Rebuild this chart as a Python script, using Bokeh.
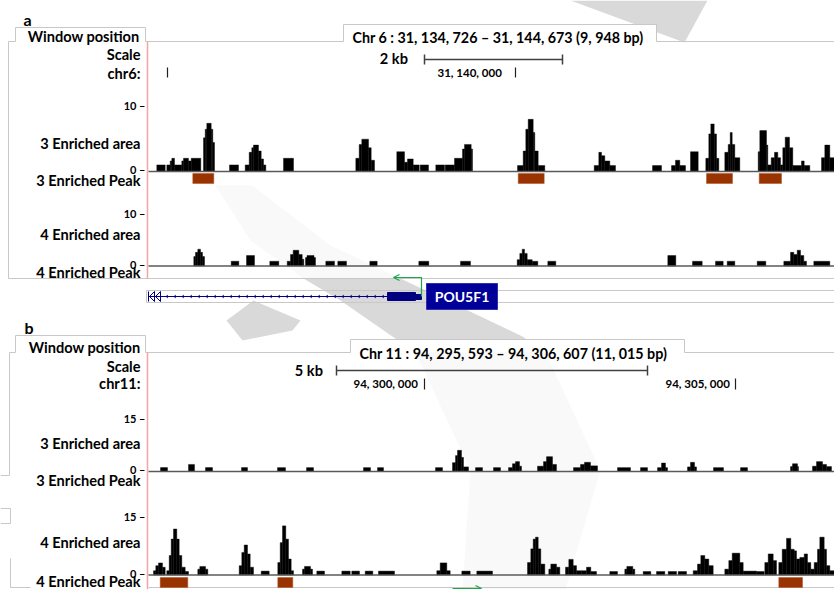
from bokeh.plotting import figure
from bokeh.models import Range1d, Arrow, OpenHead
from bokeh.embed import file_html
from bokeh.resources import INLINE
from bokeh.core.properties import value

# ---------------- data (x in track columns, values in signal units) ----------------
a3_left = [156.3,166.3,169.7,171.3,174,181.3,183,188,190.7,203,204.7,206.3,210.7,212.3,229,244.7,248.7,251.3,253,258,260.7,263,283,355.3,358.7,361.3,368,370.7,396.3,404,407,412.7,419.7,435.3,444.7,454,462,464,470.7,517,522.7,525.3,527.7,532.7,534.3,537.7,593.7,598.3,601,604.3,609.3,652,671,675,679.3,690,705.3,708.3,710.3,713.7,716,724.3,727.7,729.7,731.7,734.3,757.7,759.3,766,767.3,770.7,774,777.3,780,782.3,784.7,789,792.3,801,803.7,821,824.3,829.3]
a3_right = [164.7,169.7,171.3,174,181.3,183,188,190.7,200.3,204.7,206.3,210.7,212.3,214,238,248.7,251.3,253,258,260.7,263,265.3,293,358.7,361.3,368,370.7,374,404,407,412.7,418.7,428,444,454,462,464,470.7,472,522.7,525.3,527.7,532.7,534.3,537.7,544.3,598.3,601,604.3,609.3,615,661,675,679.3,685,697.7,708.3,710.3,713.7,716,718.3,727.7,729.7,731.7,734.3,739.3,759.3,766,767.3,770.7,774,777.3,780,782.3,784.7,789,792.3,801,803.7,809.3,824.3,829.3,834]
a3_value = [1.0,1.0,1.6,2.0,1.0,1.6,2.0,1.6,2.0,5.1,6.4,7.3,6.4,4.4,1.0,1.0,2.9,3.6,4.0,3.1,1.9,1.0,2.0,2.0,4.1,4.9,3.6,1.7,3.0,1.4,1.9,1.0,1.0,1.0,1.0,2.0,3.4,4.1,3.4,0.9,3.1,6.4,7.9,5.9,3.1,0.9,0.9,2.9,2.4,1.6,0.9,0.9,0.9,1.7,0.9,3.0,2.0,5.7,7.2,5.7,2.0,2.9,4.1,5.9,4.1,2.1,3.0,6.2,4.0,1.0,2.1,2.9,2.1,1.0,3.6,5.2,3.6,0.9,1.6,0.9,2.1,4.0,2.1]

a4_left = [193.3,195,197.3,200,202,230.7,246,269.3,286.7,290,292.7,298.3,301.7,305,306.5,313.5,325.3,337.3,369.3,418.3,460,516.7,519.3,521.7,524,526.7,531.7,547.3,667.3,692,715,726.7,756.7,783.3,790,793.3,796.7,800,803.3,813.3]
a4_right = [195,197.3,200,202,204,238.3,254,278.3,290,292.7,298.3,301.7,303.3,306.5,313.5,315,334,346,376.7,428.3,470,519.3,521.7,524,526.7,531.7,537.3,555.3,675.3,701.7,722.7,734.3,765.3,790,793.3,796.7,800,803.3,806,829.3]
a4_value = [1.8,2.6,3.2,2.6,1.8,0.9,2.0,0.9,0.9,2.2,3.0,2.2,1.3,1.6,2.0,1.6,0.9,0.9,0.9,0.9,0.9,1.2,2.4,3.2,2.4,1.2,0.9,0.9,2.0,0.9,0.9,0.9,0.9,0.9,2.6,2.2,3.0,2.0,0.9,0.9]

b3_left = [160,188,205,241,277,306,363,377,435,452,455,457,461,463,475,493,508,512,515,519,537,543,546,552,573,580,584,590,617,640,657,661,665,687,690,694,713,740,790,792,797,812,816,822,826]
b3_right = [167,194,212,247,285,313,370,383,442,455,457,461,463,468,482,500,512,515,519,521,543,546,552,556,580,584,590,597,630,647,661,665,667,690,694,696,723,747,792,797,798,816,822,826,831]
b3_value = [1.1,2.0,1.1,1.1,1.1,1.1,1.1,1.1,1.1,2.5,4.5,6.0,4.0,1.3,1.1,1.1,1.1,2.2,2.8,1.5,1.5,2.8,4.2,2.0,1.1,2.0,2.6,1.6,1.1,1.1,1.1,2.4,1.1,1.3,2.6,1.3,1.1,1.1,1.4,2.2,1.4,1.5,2.8,2.0,1.4]

b4_left = [153,155.3,158,162,166.3,168.7,170.7,173,176.3,178.7,181.3,184.7,197.3,199.3,205,238.7,241.3,243.7,247,249.7,260.7,277.3,279.7,282,285.3,288,290.7,302,304,310,316.3,341.3,351.3,364.7,378,436.3,439.7,446.3,461.3,476.3,527,530.3,532.7,535,537.7,540.3,548.3,550.3,556,565,568.3,572.7,576,581,586,590.3,609.3,624.3,626.3,632.3,642.7,656,667.7,677.7,692.7,697,700.3,704.3,708.3,724.3,728.3,731.7,739.3,742.7,756,764.3,767.7,772.7,778.3,781.7,786,790.3,793.7,796,799.3,803.7,807,810.3,813.7,817,819.3,823.7,826,829.3]
b4_right = [155.3,158,162,164.7,168.7,170.7,173,176.3,178.7,181.3,184.7,188,199.3,205,207.3,241.3,243.7,247,249.7,253,268.7,279.7,282,285.3,288,290.7,293,304,310,312,324,349.7,359,372.3,394,439.7,446.3,449.7,469.7,492,530.3,532.7,535,537.7,540.3,544.3,550.3,556,559.3,568.3,572.7,576,581,586,590.3,596,617,626.3,632.3,634.3,650.3,664.3,676,686,697,700.3,704.3,708.3,712.7,728.3,731.7,739.3,742.7,756,763.7,767.7,772.7,776,781.7,786,790.3,793.7,796,799.3,803.7,807,810.3,813.7,817,819.3,823.7,826,829.3,834]
b4_value = [1.1,2.4,3.1,2.0,1.1,5.0,9.2,11.8,9.2,5.0,2.0,0.9,1.5,2.2,1.5,2.4,5.8,7.7,5.4,2.0,1.0,3.2,8.3,12.6,9.2,4.1,1.1,1.5,2.2,1.5,1.0,1.0,1.0,1.0,1.0,1.1,3.1,1.1,1.0,1.0,3.2,6.7,9.2,9.7,6.7,2.8,1.5,2.8,2.0,2.0,4.0,2.4,1.1,1.1,2.0,0.9,0.9,1.5,2.2,1.5,0.9,0.9,0.9,0.9,1.1,2.8,5.0,4.1,2.4,1.5,3.7,5.6,3.2,1.0,0.9,3.2,5.4,3.7,3.2,6.6,9.4,6.6,6.2,4.1,4.5,5.4,3.2,1.5,3.2,6.6,9.7,6.6,2.4,1.1]

a3_peak_start = [192.3, 517.7, 706, 758.7]
a3_peak_end = [213.3, 543.7, 732, 781]
b4_peak_start = [159.7, 277.3, 778.3]
b4_peak_end = [187.3, 292.3, 802]

track_names = ["3 Enriched area", "3 Enriched Peak", "4 Enriched area", "4 Enriched Peak"]
a_title = "Chr 6 : 31, 134, 726 \u2013 31, 144, 673 (9, 948 bp)"
b_title = "Chr 11 : 94, 295, 593 \u2013 94, 306, 607  (11, 015 bp)"
a_scale_label, b_scale_label = "2  kb", "5  kb"
a_pos_labels = ["31, 140, 000"]
b_pos_labels = ["94, 300, 000", "94, 305, 000"]
a_max, b_max = 10, 15
gene_name = "POU5F1"

# ---------------- figure ----------------
W, H = 834, 589
p = figure(width=W, height=H, x_range=Range1d(0, W), y_range=Range1d(H, 0),
           output_backend="svg", toolbar_location=None, min_border=0,
           x_axis_location=None, y_axis_location=None)
p.grid.visible = False
p.outline_line_color = None
p.background_fill_color = "white"
p.border_fill_color = "white"

FONT = "Lato"
GRAY = "#c8c8c8"
LBL = 14.6

def txt(x, y, s, size=LBL, align="right", color="black"):
    p.text(x=[x], y=[y], text=[s], text_font=value(FONT), text_font_size=f"{size}px",
           text_font_style="bold", text_align=align, text_baseline="middle", text_color=color)

def track_range(name, yb, yt, vmax):
    k = vmax / (yb - yt)
    p.extra_y_ranges[name] = Range1d(start=k * (yb - H), end=k * yb)

# watermark: strong outside the panels, faint inside them
p.patches([[570, 707, 684],
           [303, 400, 522, 545, 415, 340],
           [253, 300, 292, 242, 226]],
          [[0, 0, 42],
           [278, 278, 336, 352, 352, 300],
           [300, 320, 330, 340, 320]],
          fill_color="#d9d9d9", line_color=None)
p.patches([[215, 252, 330, 400, 303, 250],
           [415, 545, 600, 565, 462, 470]],
          [[185, 185, 245, 278, 278, 240],
           [352, 352, 470, 589, 589, 470]],
          fill_color="#f9f9f9", line_color=None)

# tabs
p.quad(left=[15, 343, 15, 350], right=[145, 656, 145, 684], top=[27, 24, 335, 339],
       bottom=[41, 41, 352, 352], fill_color="white", line_color=None)

# borders
p.multi_line(
    xs=[[8, 8, 15, 15, 145, 145, 343, 343, 656, 656, 834],
        [8, 834],
        [146, 834], [146, 834], [146, 146],
        [0, 9, 9, 15, 15, 145, 145, 350, 350, 684, 684, 834],
        [0, 10, 10, 0], [10, 10, 30], [148, 834]],
    ys=[[278, 41, 41, 27, 27, 41, 41, 24, 24, 41, 41],
        [278, 278],
        [290, 290], [302, 302], [290, 302],
        [475, 475, 352, 352, 335, 335, 352, 352, 339, 339, 352, 352],
        [508, 508, 523, 523], [558, 587, 587], [587, 587]],
    line_color=GRAY, line_width=1)

# red window lines
p.segment(x0=[147, 147], y0=[41, 352], x1=[147, 147], y1=[278, 589], line_color="#f5a3a3", line_width=1.5)

# tracks
tracks = [("a3", 171, 105, a_max, a3_left, a3_right, a3_value),
          ("a4", 265.5, 213, a_max, a4_left, a4_right, a4_value),
          ("b3", 471, 418, b_max, b3_left, b3_right, b3_value),
          ("b4", 574.5, 516, b_max, b4_left, b4_right, b4_value)]
for name, yb, yt, vmax, l, r, v in tracks:
    track_range(name, yb, yt, vmax)
    p.quad(left=l, right=r, bottom=0, top=v, y_range_name=name,
           fill_color="black", line_color="black", line_width=0.4)
    p.segment(x0=[148], x1=[834], y0=[0], y1=[0], y_range_name=name, line_color="#5a5a5a", line_width=1.5)
    txt(145, yt, f"{vmax} \u2013", size=11)
    txt(145, yb - 2, "0 \u2013", size=11)

# peak bars
p.quad(left=a3_peak_start, right=a3_peak_end, top=173, bottom=183, fill_color="#993300", line_color="#b0502a", line_width=0.5)
p.quad(left=b4_peak_start, right=b4_peak_end, top=577, bottom=587, fill_color="#993300", line_color="#b0502a", line_width=0.5)

# labels panel a
txt(23, 19, "a", size=16, align="left")
txt(139, 36, "Window position")
txt(140, 54, "Scale")
txt(140, 73, "chr6:")
txt(140, 143, track_names[0])
txt(140, 180, track_names[1])
txt(140, 234, track_names[2])
txt(140, 272, track_names[3])
txt(352, 37, a_title, size=14.3, align="left")
txt(411, 58, a_scale_label, align="right")
txt(437, 72, a_pos_labels[0], size=11.5, align="left")
# labels panel b
txt(24, 327, "b", size=16, align="left")
txt(140, 347, "Window position")
txt(140, 366, "Scale")
txt(140, 383, "chr11:")
txt(140, 443, track_names[0])
txt(140, 480, track_names[1])
txt(140, 542, track_names[2])
txt(140, 581, track_names[3])
txt(359, 353, b_title, size=14.3, align="left")
txt(326, 370, b_scale_label, align="right")
txt(353, 383, b_pos_labels[0], size=11.5, align="left")
txt(665, 383, b_pos_labels[1], size=11.5, align="left")

# scale bars and ticks
SB = "#404040"
p.segment(x0=[424, 336], x1=[562, 647], y0=[59, 370], y1=[59, 370], line_color=SB, line_width=1.5)
p.segment(x0=[424, 562, 336, 647], x1=[424, 562, 336, 647], y0=[54, 54, 365, 365], y1=[64, 64, 375, 375], line_color=SB, line_width=1.5)
p.segment(x0=[167, 515, 424, 735], x1=[167, 515, 424, 735], y0=[67, 67, 378, 378], y1=[77, 77, 389, 389], line_color="#202020", line_width=1.2)

# gene model
NAVY = "#000080"
p.segment(x0=[148], x1=[388], y0=[296], y1=[296], line_color=NAVY, line_width=1)
chev_x = list(range(166, 386, 8))
p.multi_line(xs=[[c + 1.5, c - 0.5, c + 1.5] for c in chev_x], ys=[[294.5, 296, 297.5] for _ in chev_x], line_color=NAVY, line_width=0.8)
p.multi_line(xs=[[148, 148], [154, 149, 154, 154], [160, 155, 160, 160]],
             ys=[[291, 301], [291, 296, 301, 291], [291, 296, 301, 291]], line_color=NAVY, line_width=1)
p.quad(left=[387, 415], right=[415, 421], top=[292, 294], bottom=[300, 299], fill_color=NAVY, line_color=NAVY)
GREEN = "#1aa64a"
p.line(x=[421, 421, 396], y=[296, 277, 277], line_color=GREEN, line_width=1.2)
p.add_layout(Arrow(end=OpenHead(line_color=GREEN, line_width=1.2, size=6), x_start=405, y_start=277, x_end=393, y_end=277, line_color=GREEN, line_width=1.2))
p.add_layout(Arrow(end=OpenHead(line_color=GREEN, line_width=1.2, size=6), x_start=452, y_start=588, x_end=481, y_end=588, line_color=GREEN, line_width=1.2))
p.quad(left=[426], right=[497], top=[283], bottom=[309], fill_color="#000099", line_color="#3030b0")
txt(461.5, 296, gene_name, size=14, align="center", color="white")

open("out.html", "w").write(file_html(p, INLINE))
